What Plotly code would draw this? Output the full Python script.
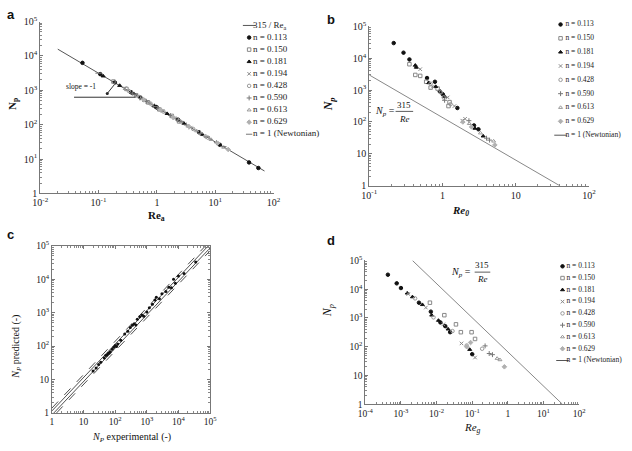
import plotly.graph_objects as go

W, H = 632, 451

# ---------------- data ----------------
SERIES = ["n = 0.113", "n = 0.150", "n = 0.181", "n = 0.194", "n = 0.428",
          "n = 0.590", "n = 0.613", "n = 0.629", "n = 1 (Newtonian)"]

# panel a : Np vs Re_a
a_re = {
    "n = 0.113": [0.053, 0.107, 0.19, 0.36, 0.52, 0.96, 1.0, 2.3, 5.3, 12, 38, 55],
    "n = 0.150": [0.18, 0.3, 0.44, 0.7, 1.1, 1.8, 2.4],
    "n = 0.181": [0.12, 0.23, 0.4, 0.62, 0.9, 1.5, 2.9, 6.0],
    "n = 0.194": [0.28, 0.55, 0.85, 1.25, 2.0, 3.8],
    "n = 0.428": [0.33, 0.5, 0.78, 1.3, 2.2, 4.2, 7.5],
    "n = 0.590": [0.38, 0.66, 1.05, 1.7, 3.2, 5.6, 10.5],
    "n = 0.613": [0.45, 0.75, 1.2, 2.6, 4.8, 8.5, 14],
    "n = 0.629": [0.6, 1.15, 1.9, 3.5, 6.8, 11, 16.7],
    "n = 1 (Newtonian)": [0.1, 0.42, 0.95, 2.5, 7.2, 13.8],
}
a_np = {
    "n = 0.113": [6300, 2960, 1700, 880, 620, 330, 315, 140, 60, 26, 8.0, 5.5],
    "n = 0.150": [1800, 1100, 720, 450, 280, 180, 125],
    "n = 0.181": [2600, 1380, 800, 510, 350, 210, 110, 52],
    "n = 0.194": [1150, 570, 370, 250, 155, 82],
    "n = 0.428": [960, 640, 410, 240, 145, 75, 42],
    "n = 0.590": [830, 480, 300, 185, 98, 56, 30],
    "n = 0.613": [700, 420, 265, 120, 66, 37, 22],
    "n = 0.629": [525, 275, 165, 90, 46, 29, 19],
    "n = 1 (Newtonian)": [3150, 750, 335, 126, 44, 23],
}
a_line_re = [0.02, 0.2, 2, 20, 70]
NP_CONST = 315

# panel b : Np vs Re_0
b_re = {
    "n = 0.113": [0.216, 0.294, 0.354, 0.616, 0.79, 0.92, 1.01, 1.6, 2.7, 3.1],
    "n = 0.150": [0.354, 0.426, 0.497, 0.6, 0.69, 0.86, 1.21, 1.25],
    "n = 0.181": [0.426, 0.44, 0.65, 0.81, 1.07, 2.78, 3.6],
    "n = 0.194": [0.497, 0.74, 1.18, 1.46, 1.87, 2.04],
    "n = 0.428": [0.69, 0.95, 1.04, 1.29],
    "n = 0.590": [1.07, 2.3, 4.0, 4.4],
    "n = 0.613": [2.33, 3.3, 5.0],
    "n = 0.629": [1.9, 2.5, 5.2],
}
b_np = {
    "n = 0.113": [30000, 15000, 9200, 2400, 1830, 910, 740, 275, 78, 59],
    "n = 0.150": [6500, 3000, 2800, 1830, 1200, 1120, 316, 420],
    "n = 0.181": [6000, 5200, 1700, 1290, 635, 63, 36],
    "n = 0.194": [4550, 1290, 590, 316, 110, 126],
    "n = 0.428": [1590, 850, 590, 362],
    "n = 0.590": [480, 110, 31, 27],
    "n = 0.613": [89, 45, 25],
    "n = 0.629": [100, 70, 19],
}
b_line_re = [0.1, 40]
b_line_np = [3000, 1]

# panel c : predicted vs experimental
c_exp = [20, 25, 30, 35, 45, 50, 55, 60, 65, 70, 80, 90, 100, 110, 120, 150, 200, 250,
         300, 350, 400, 450, 500, 600, 700, 800, 1000, 1200, 1500, 1800, 2000, 2500,
         3000, 4000, 5000, 6000, 7000, 8000, 10000, 15000, 35000]
c_pred = [18, 22, 28, 33, 44, 52, 54, 60, 62, 68, 80, 92, 105, 98, 115, 150, 230, 280,
          360, 420, 470, 430, 640, 760, 860, 780, 1050, 1400, 1800, 2400, 2900, 2600,
          3700, 4300, 5800, 5600, 10000, 7600, 12500, 15000, 33000]
c_factors = [1.4, 1.15, 1 / 1.15, 1 / 1.4]

# panel d : Np vs Re_g
d_re = {
    "n = 0.113": [4.3e-4, 7.6e-4, 1.0e-3, 3.2e-3, 6.9e-3, 0.0128, 0.0175, 0.024, 0.1],
    "n = 0.150": [6.5e-3, 0.0165, 0.035, 0.048, 0.096, 0.12],
    "n = 0.181": [1.5e-3, 2.1e-3, 4.0e-3, 7.3e-3, 0.0113, 0.021, 0.085],
    "n = 0.194": [1.6e-3, 5.0e-3, 0.0155, 0.05, 0.12],
    "n = 0.428": [2.5e-3, 8.2e-3, 0.028, 0.07, 0.19],
    "n = 0.590": [0.23, 0.3, 0.37],
    "n = 0.613": [0.5, 0.6],
    "n = 0.629": [0.07, 0.09, 0.8],
}
d_np = {
    "n = 0.113": [32000, 16000, 11000, 3400, 1660, 700, 520, 320, 55],
    "n = 0.150": [3400, 1250, 600, 320, 320, 186],
    "n = 0.181": [7300, 5400, 2900, 1250, 820, 410, 80],
    "n = 0.194": [6800, 2300, 600, 130, 42],
    "n = 0.428": [4800, 1050, 350, 110, 85],
    "n = 0.590": [107, 58, 53],
    "n = 0.613": [39, 35],
    "n = 0.629": [100, 140, 20],
}
d_line_re = [2.1e-3, 34]
d_line_np = [1e5, 1]

legend_a_labels = ["315 / Re<sub>a</sub>"] + SERIES
legend_bd_labels = SERIES

# ---------------- styles ----------------
STYLE = {
    "n = 0.113": dict(symbol="circle", color="#111111", size=3.5),
    "n = 0.150": dict(symbol="square-open", color="#888888", size=3.5),
    "n = 0.181": dict(symbol="triangle-up", color="#111111", size=3.5),
    "n = 0.194": dict(symbol="x-thin-open", color="#888888", size=3.5),
    "n = 0.428": dict(symbol="circle-open", color="#999999", size=3.5),
    "n = 0.590": dict(symbol="cross-thin-open", color="#777777", size=3.5),
    "n = 0.613": dict(symbol="triangle-up-open", color="#999999", size=3.5),
    "n = 0.629": dict(symbol="diamond", color="#b0b0b0", size=3.5),
    "n = 1 (Newtonian)": dict(symbol="line-ew-open", color="#777777", size=4.5),
    "line": dict(symbol="line-ew-open", color="#555555", size=9),
}
SERIF = "Liberation Serif"
LINE_C = "#777777"


def mk(style):
    return dict(symbol=style["symbol"], color=style["color"], size=style["size"],
                line=dict(color=style["color"], width=1))


def px_x(p):
    return p / W


def px_y(p):
    return 1 - p / H


fig = go.Figure()

# ---- panel a ----
fig.add_trace(go.Scatter(x=a_line_re, y=[NP_CONST / r for r in a_line_re], mode="lines",
                         line=dict(color="#555", width=1), xaxis="x", yaxis="y",
                         showlegend=False))
for s in SERIES:
    fig.add_trace(go.Scatter(x=a_re[s], y=a_np[s], mode="markers", marker=mk(STYLE[s]),
                             xaxis="x", yaxis="y", showlegend=False))
# ---- panel b ----
fig.add_trace(go.Scatter(x=b_line_re, y=b_line_np, mode="lines",
                         line=dict(color="#888", width=1), xaxis="x2", yaxis="y2",
                         showlegend=False))
for s in SERIES[:-1]:
    fig.add_trace(go.Scatter(x=b_re[s], y=b_np[s], mode="markers", marker=mk(STYLE[s]),
                             xaxis="x2", yaxis="y2", showlegend=False))
# ---- panel c ----
lo, hi = 1.0, 1e5
for f in c_factors:
    if f >= 1:
        xs, ys = [lo, hi / f], [lo * f, hi]
    else:
        xs, ys = [lo / f, hi], [lo, hi * f]
    fig.add_trace(go.Scatter(x=xs, y=ys, mode="lines",
                             line=dict(color="#222", width=0.8,
                                       dash="solid" if abs(f - 1) < 0.2 else "dash"),
                             xaxis="x3", yaxis="y3", showlegend=False))
fig.add_trace(go.Scatter(x=c_exp, y=c_pred, mode="markers",
                         marker=dict(symbol="circle", size=3, color="#111"),
                         xaxis="x3", yaxis="y3", showlegend=False))
# ---- panel d ----
fig.add_trace(go.Scatter(x=d_line_re, y=d_line_np, mode="lines",
                         line=dict(color="#888", width=1), xaxis="x4", yaxis="y4",
                         showlegend=False))
for s in SERIES[:-1]:
    fig.add_trace(go.Scatter(x=d_re[s], y=d_np[s], mode="markers", marker=mk(STYLE[s]),
                             xaxis="x4", yaxis="y4", showlegend=False))


# ---- custom legends (on hidden axes) ----
def legend(labels, styles, xa, ya, mx, tx, fsize):
    idx = list(range(len(labels)))
    for i, (lab, st) in enumerate(zip(labels, styles)):
        fig.add_trace(go.Scatter(x=[mx], y=[i], mode="markers", marker=mk(st),
                                 xaxis=xa, yaxis=ya, showlegend=False))
    fig.add_trace(go.Scatter(x=[tx] * len(labels), y=idx, text=labels, mode="text",
                             textposition="middle right",
                             textfont=dict(family=SERIF, size=fsize, color="#222"),
                             xaxis=xa, yaxis=ya, showlegend=False))


legend(legend_a_labels, [STYLE["line"]] + [STYLE[s] for s in SERIES], "x5", "y5", 0.7, 1.1, 9)
sty_b = [STYLE[s] for s in SERIES[:-1]] + [STYLE["line"]]
legend(legend_bd_labels, sty_b, "x6", "y6", 1.0, 1.5, 7.5)
legend(legend_bd_labels, sty_b, "x7", "y7", 1.2, 1.6, 7.5)


# ---------------- axes ----------------
def dec_ticks(lo, hi, style):
    vals = [10 ** k for k in range(lo, hi + 1)]
    txt = []
    for k in range(lo, hi + 1):
        if k == 0:
            txt.append("1")
        elif k == 1 and style == "ten":
            txt.append("10")
        else:
            txt.append("10<sup>%d</sup>" % k)
    minor = [m * 10 ** k for k in range(lo, hi) for m in range(2, 10)]
    return vals, txt, minor


def logaxis(lo, hi, dom, style, fsize, mirror=False, anchor=None):
    v, t, mn = dec_ticks(lo, hi, style)
    d = dict(type="log", range=[lo, hi], domain=dom, tickmode="array", tickvals=v,
             ticktext=t, ticks="inside", ticklen=3, tickwidth=0.8, tickcolor=LINE_C,
             showline=True, linecolor=LINE_C, linewidth=1, showgrid=False, zeroline=False,
             tickfont=dict(family=SERIF, size=fsize, color="#222"),
             minor=dict(tickmode="array", tickvals=mn, ticks="inside", ticklen=2,
                        tickwidth=0.6, tickcolor="#888"))
    if mirror:
        d["mirror"] = "ticks"
    if anchor:
        d["anchor"] = anchor
    return d


fig.update_layout(
    width=W, height=H, margin=dict(l=0, r=0, t=0, b=0),
    paper_bgcolor="white", plot_bgcolor="white", showlegend=False,
    xaxis=logaxis(-2, 2, [px_x(33), px_x(272)], "sup", 10, anchor="y"),
    yaxis=logaxis(0, 5, [px_y(192), px_y(15)], "sup", 10, anchor="x"),
    xaxis2=logaxis(-1, 2, [px_x(370), px_x(595)], "ten", 10, anchor="y2"),
    yaxis2=logaxis(0, 5, [px_y(184), px_y(20)], "ten", 10, anchor="x2"),
    xaxis3=logaxis(0, 5, [px_x(45), px_x(207)], "ten", 9.5, mirror=True, anchor="y3"),
    yaxis3=logaxis(0, 5, [px_y(418), px_y(246)], "ten", 9.5, mirror=True, anchor="x3"),
    xaxis4=logaxis(-4, 2, [px_x(366), px_x(585)], "sup", 9.5, anchor="y4"),
    yaxis4=logaxis(0, 5, [px_y(409), px_y(261)], "ten", 9.5, anchor="x4"),
)
hid = dict(visible=False, showgrid=False, zeroline=False, fixedrange=True)
sp_a = (131 - 19) / 9
sp_b = (132 - 18) / 8
sp_d = (364 - 267) / 8
fig.update_layout(
    xaxis5=dict(hid, domain=[px_x(240), px_x(340)], range=[0, 10], anchor="y5"),
    yaxis5=dict(hid, domain=[px_y(131 + sp_a / 2), px_y(19 - sp_a / 2)], range=[9.5, -0.5], anchor="x5"),
    xaxis6=dict(hid, domain=[px_x(556), px_x(632)], range=[0, 7.6], anchor="y6"),
    yaxis6=dict(hid, domain=[px_y(132 + sp_b / 2), px_y(18 - sp_b / 2)], range=[8.5, -0.5], anchor="x6"),
    xaxis7=dict(hid, domain=[px_x(556), px_x(632)], range=[0, 7.6], anchor="y7"),
    yaxis7=dict(hid, domain=[px_y(364 + sp_d / 2), px_y(267 - sp_d / 2)], range=[8.5, -0.5], anchor="x7"),
)

# ---------------- annotations ----------------
ann = []


def txt(x, y, s, size=10, angle=0, family=SERIF, xanchor="center"):
    ann.append(dict(x=px_x(x), y=px_y(y), xref="paper", yref="paper", text=s,
                    showarrow=False, textangle=angle, xanchor=xanchor, yanchor="middle",
                    font=dict(family=family, size=size, color="#111")))


# panel letters
txt(3, 8, "<b>a</b>", 13, family="Liberation Sans")
txt(331, 13, "<b>b</b>", 13, family="Liberation Sans")
txt(3, 234, "<b>c</b>", 13, family="Liberation Sans")
txt(331, 240, "<b>d</b>", 13, family="Liberation Sans")
# axis titles
txt(152, 215, "<b>Re<sub>a</sub></b>", 11)
txt(5, 100, "<b>N<sub>p</sub></b>", 11, angle=-90)
txt(464, 210, "<b><i>Re<sub>0</sub></i></b>", 11)
txt(329, 100, "<b><i>N<sub>p</sub></i></b>", 12, angle=-90)
txt(126, 443, "<i>N<sub>P</sub></i> experimental (-)", 10)
txt(9, 350, "<i>N<sub>P</sub></i> predicted (-)", 10, angle=-90)
txt(476, 434, "<i>Re<sub>g</sub></i>", 11)
txt(328, 313, "<i>N<sub>p</sub></i>", 12, angle=-90)
# slope annotation
txt(75, 82, "slope = -1", 7.5)
# equation b
txt(386, 108, "<i>N<sub>p</sub></i> =", 10)
txt(406, 101, "315", 9)
txt(406, 115, "<i>Re</i>", 9)
# equation d
txt(464, 273, "<i>N<sub>p</sub></i> =", 10)
txt(486, 266, "315", 9)
txt(486, 280, "<i>Re</i>", 9)
fig.update_layout(annotations=ann)

shapes = [
    # slope guide in panel a (data coords)
    dict(type="line", xref="x", yref="y", x0=0.038, x1=0.43, y0=630, y1=630,
         line=dict(color="#333", width=1)),
    dict(type="line", xref="x", yref="y", x0=0.141, x1=0.186, y0=810, y1=1450,
         line=dict(color="#333", width=1)),
    # fraction bars
    dict(type="line", xref="paper", yref="paper", x0=px_x(397), x1=px_x(415),
         y0=px_y(107.5), y1=px_y(107.5), line=dict(color="#333", width=0.8)),
    dict(type="line", xref="paper", yref="paper", x0=px_x(478), x1=px_x(494),
         y0=px_y(273), y1=px_y(273), line=dict(color="#333", width=0.8)),
]
fig.update_layout(shapes=shapes)
fig.add_trace(go.Scatter(x=[0.141], y=[810], mode="markers",
                         marker=dict(size=3, color="#222"), xaxis="x", yaxis="y",
                         showlegend=False))

fig.write_html("out.html")
